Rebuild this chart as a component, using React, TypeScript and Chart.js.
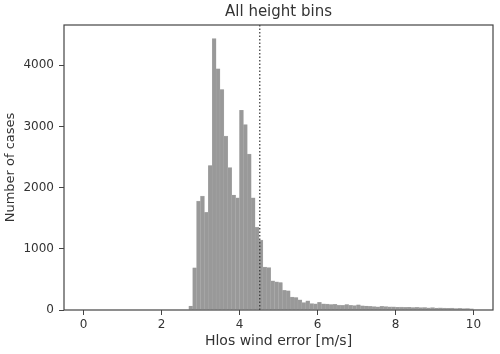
import React, { useEffect, useRef } from "react";
import { Chart, registerables } from "chart.js";

Chart.register(...registerables);

const titleText = "All height bins";
const xLabel = "Hlos wind error [m/s]";
const yLabel = "Number of cases";

const binStart = 0;
const binWidth = 0.1;

// counts per 0.1 m/s bin, 0.0 .. 10.0
const counts = [
  0, 0, 0, 0, 0, 0, 0, 0, 0, 0,
  0, 0, 0, 0, 0, 0, 0, 0, 0, 0,
  0, 0, 0, 0, 0, 0, 0, 65, 690, 1780,
  1862, 1595, 2363, 4437, 3945, 3606, 2844, 2327, 1880, 1834,
  3266, 3032, 2548, 1834, 1350, 1143, 700, 692, 476, 460,
  450, 320, 315, 210, 205, 165, 120, 150, 105, 100,
  125, 100, 95, 90, 92, 80, 75, 90, 75, 72,
  85, 70, 65, 60, 55, 50, 58, 55, 50, 52,
  45, 48, 42, 45, 40, 42, 38, 40, 35, 38,
  32, 35, 30, 28, 30, 25, 27, 22, 25, 20,
];

const xTicks = [0, 2, 4, 6, 8, 10];
const yTicks = [0, 1000, 2000, 3000, 4000];
const xRange = [-0.5, 10.5];
const yRange = [0, 4660];
const thresholdValue = 4.52;

const FONT = "'DejaVu Sans', sans-serif";
const TEXT = "#333333";
const FRAME = "#444444";

export default function App() {
  const canvasRef = useRef<HTMLCanvasElement | null>(null);

  useEffect(() => {
    const canvas = canvasRef.current;
    if (!canvas) return;

    const points = counts.map((c, i) => ({
      x: binStart + binWidth * (i + 0.5),
      y: c,
    }));

    const overlayPlugin = {
      id: "overlay",
      afterDatasetsDraw(chart: any) {
        const { ctx, chartArea: a, scales } = chart;
        const xp = scales.x.getPixelForValue(thresholdValue);
        ctx.save();
        ctx.strokeStyle = "#333333";
        ctx.lineWidth = 1.2;
        ctx.setLineDash([1.5, 2]);
        ctx.beginPath();
        ctx.moveTo(xp, a.top);
        ctx.lineTo(xp, a.bottom);
        ctx.stroke();
        ctx.setLineDash([]);
        ctx.strokeStyle = FRAME;
        ctx.lineWidth = 1.2;
        ctx.strokeRect(a.left, a.top, a.right - a.left, a.bottom - a.top);
        // title centred over the plotting area
        ctx.fillStyle = TEXT;
        ctx.font = `15px ${FONT}`;
        ctx.textAlign = "center";
        ctx.textBaseline = "middle";
        ctx.fillText(titleText, (a.left + a.right) / 2, a.top - 13);
        ctx.restore();
      },
    };

    const chart = new Chart(canvas, {
      type: "bar",
      data: {
        datasets: [
          {
            data: points,
            backgroundColor: "#999999",
            borderColor: "#b0b0b0",
            borderWidth: 0.4,
            barPercentage: 1,
            categoryPercentage: 1,
          },
        ],
      },
      options: {
        animation: false,
        responsive: true,
        maintainAspectRatio: false,
        layout: { padding: { left: 0, right: 7, top: 25, bottom: 0 } },
        plugins: {
          legend: { display: false },
          tooltip: { enabled: false },
          title: { display: false },
        },
        scales: {
          x: {
            type: "linear",
            min: xRange[0],
            max: xRange[1],
            offset: false,
            afterBuildTicks: (s: any) => {
              s.ticks = xTicks.map((v) => ({ value: v }));
            },
            afterFit: (s: any) => {
              s.height = 44;
            },
            grid: {
              display: true,
              drawOnChartArea: false,
              drawTicks: true,
              tickLength: 5,
              color: FRAME,
              offset: false,
            },
            border: { display: false },
            ticks: {
              color: TEXT,
              font: { family: FONT, size: 12 },
              padding: 3,
              maxRotation: 0,
              callback: (v: any) => String(v),
            },
            title: {
              display: true,
              text: xLabel,
              color: TEXT,
              font: { family: FONT, size: 14 },
              padding: { top: 4.5, bottom: 4.5 },
            },
          },
          y: {
            type: "linear",
            min: yRange[0],
            max: yRange[1],
            afterBuildTicks: (s: any) => {
              s.ticks = yTicks.map((v) => ({ value: v }));
            },
            afterFit: (s: any) => {
              s.width = 64;
            },
            grid: {
              display: true,
              drawOnChartArea: false,
              drawTicks: true,
              tickLength: 5,
              color: FRAME,
            },
            border: { display: false },
            ticks: {
              color: TEXT,
              font: { family: FONT, size: 12 },
              padding: 5,
              callback: (v: any) => String(v),
            },
            title: {
              display: true,
              text: yLabel,
              color: TEXT,
              font: { family: FONT, size: 13 },
              padding: { top: 3, bottom: 3 },
            },
          },
        },
      },
      plugins: [overlayPlugin],
    });

    return () => {
      chart.destroy();
    };
  }, []);

  return (
    <div
      style={{
        position: "absolute",
        left: 0,
        top: 0,
        width: 500,
        height: 354,
        background: "#ffffff",
      }}
    >
      <canvas ref={canvasRef} />
    </div>
  );
}
